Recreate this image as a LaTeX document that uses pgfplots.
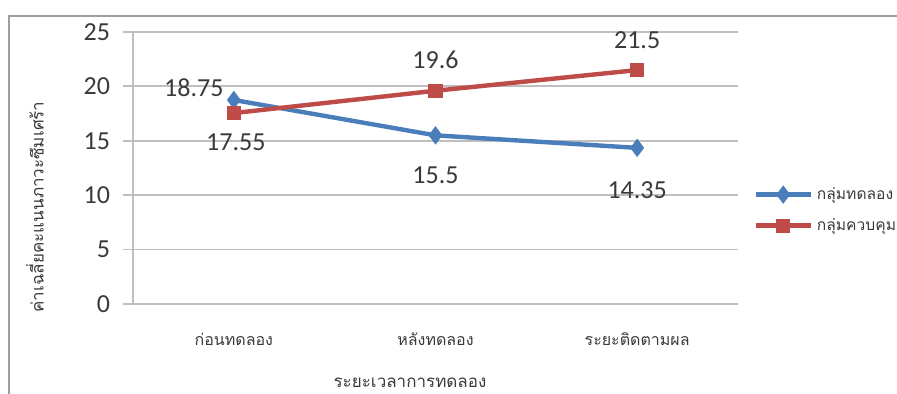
\documentclass[border=0pt]{standalone}
\usepackage{fontspec}
\usepackage{pgfplots}
\usepackage{pgfplotstable}
\pgfplotsset{compat=1.18}
\setmainfont{Carlito}
\newfontfamily\thaifont[Script=Thai]{Loma}

\definecolor{expblue}{HTML}{4A7EBB}
\definecolor{ctrlred}{HTML}{BE4B48}
\definecolor{gridgray}{HTML}{BFBFBF}
\definecolor{txt}{HTML}{3A3A3A}

% x = phase, y = mean score, dx/dy = offset of the value label (pt)
\pgfplotstableread{
x  y      dx   dy
0  18.75  -20  6
1  15.5   0    -20
2  14.35  0    -21
}\expdata
\pgfplotstableread{
x  y      dx   dy
0  17.55  1    -14.5
1  19.6   0    15.5
2  21.5   0    15
}\ctrldata

\begin{document}
\begin{tikzpicture}
\useasboundingbox (0,0) rectangle (448.5pt,197pt);
% outer chart frame
\draw[gray!75, line width=1pt] (4.5pt,-20pt) -- (4.5pt,189pt) -- (470pt,189pt);

\begin{axis}[
  at={(66.5pt,45pt)}, anchor=south west,
  scale only axis, width=302.5pt, height=136pt,
  xmin=-0.5, xmax=2.5, ymin=0, ymax=25,
  axis x line*=bottom, axis y line*=left,
  axis line style={gridgray, line width=0.9pt},
  /pgf/number format/assume math mode=true,
  tick align=outside,
  ytick={0,5,...,25},
  ymajorgrids, grid style={gridgray, line width=0.9pt},
  ytick style={gridgray, line width=0.9pt},
  major tick length=5pt,
  yticklabel style={font=\fontsize{13}{15}\selectfont, text=txt, xshift=-3pt},
  xtick={0,1,2},
  xticklabels={ก่อนทดลอง, หลังทดลอง, ระยะติดตามผล},
  xtick style={draw=none},
  xticklabel style={font=\thaifont\fontsize{8}{10}\selectfont, text=txt, yshift=-6pt},
  extra x ticks={-0.5,0.5,1.5,2.5},
  extra x tick labels={},
  extra x tick style={grid=none, tick style={draw=gridgray, line width=0.9pt}, major tick length=4.5pt},
  clip=false,
  nodes near coords,
  every node near coord/.append style={font=\fontsize{13}{15}\selectfont, text=txt, anchor=center, xshift=\dx pt, yshift=\dy pt},
  visualization depends on={\thisrow{dx} \as \dx},
  visualization depends on={\thisrow{dy} \as \dy},
  legend style={at={(1.025,0.345)}, anchor=west, draw=none, fill=none,
    font=\thaifont\fontsize{7.8}{10}\selectfont, text=txt,
    row sep=4pt, inner sep=0pt},
  legend cell align=left,
  legend image code/.code={\draw[mark repeat=2, mark phase=2, #1]
    plot coordinates {(0pt,0pt) (13.75pt,0pt) (27.5pt,0pt)};},
]
\addplot[expblue, line width=2.2pt, mark=diamond*, mark size=4.2pt,
  mark options={fill=expblue, draw=expblue, line width=0.5pt}]
  table[x=x, y=y] {\expdata};
\addlegendentry{กลุ่มทดลอง}
\addplot[ctrlred, line width=2.2pt, mark=square*, mark size=3.3pt,
  mark options={fill=ctrlred, draw=ctrlred, line width=0.5pt}]
  table[x=x, y=y] {\ctrldata};
\addlegendentry{กลุ่มควบคุม}
\end{axis}

\node[rotate=90, font=\thaifont\fontsize{8.5}{10}\selectfont, text=txt]
  at (17.5pt,93.5pt) {ค่าเฉลี่ยคะแนนภาวะซึมเศร้า};
\node[font=\thaifont\fontsize{8.5}{10}\selectfont, text=txt]
  at (205pt,5.5pt) {ระยะเวลาการทดลอง};
\end{tikzpicture}
\end{document}
